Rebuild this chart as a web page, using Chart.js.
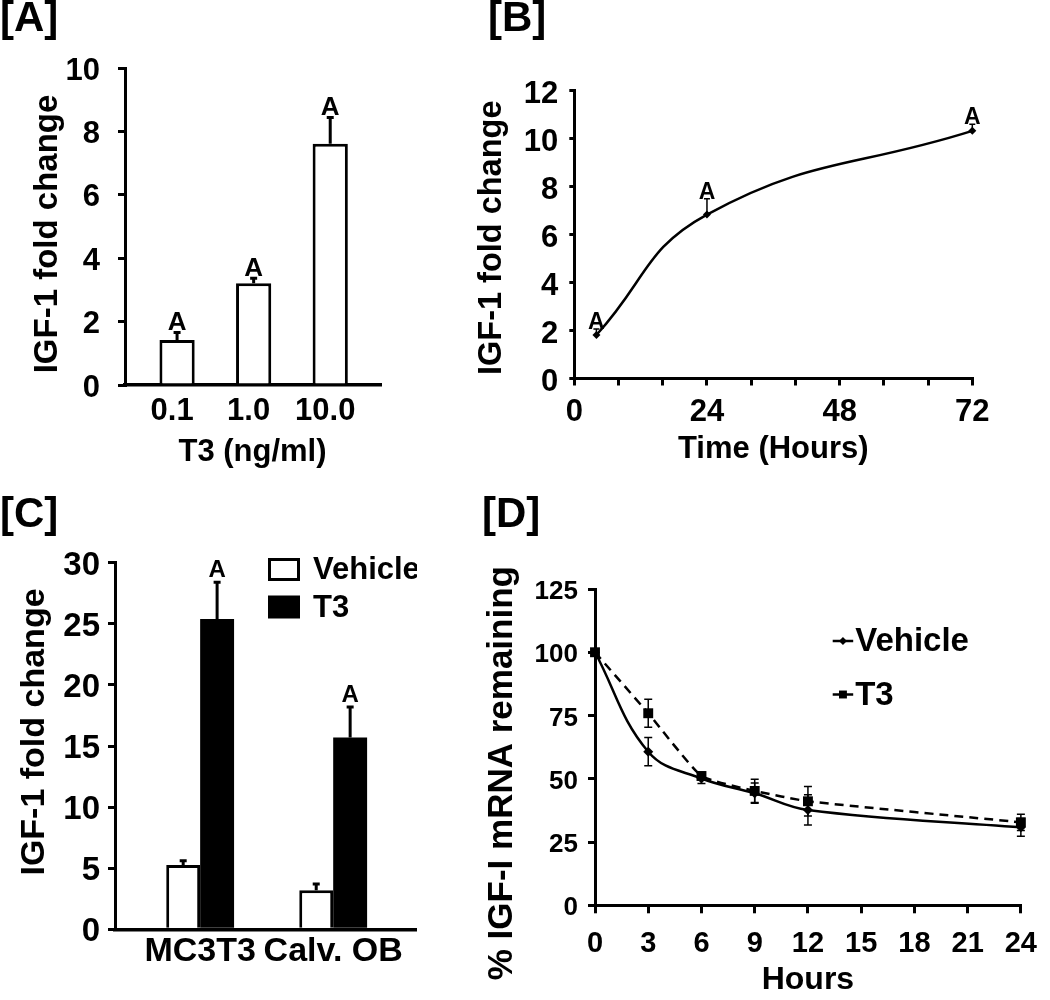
<!DOCTYPE html>
<html>
<head>
<meta charset="utf-8">
<script src="https://cdn.jsdelivr.net/npm/chart.js@4.4.1/dist/chart.umd.min.js"></script>
<style>
html, body { margin: 0; padding: 0; background: #fff; }
#wrap { position: relative; width: 1050px; height: 1000px; overflow: hidden; background: #fff; }
.panel { position: absolute; }
.panel canvas { display: block; }
.lbl { position: absolute; font: bold 42px "Liberation Sans", Arial, sans-serif; color: #000; line-height: 1; white-space: nowrap; }
</style>
</head>
<body>
<div id="wrap">
  <div class="panel" style="left:0;top:0;"><canvas id="cA" width="440" height="480"></canvas></div>
  <div class="panel" style="left:440px;top:0;"><canvas id="cB" width="610" height="480"></canvas></div>
  <div class="panel" style="left:0;top:480px;"><canvas id="cC" width="417" height="520"></canvas></div>
  <div class="panel" style="left:440px;top:480px;"><canvas id="cD" width="610" height="520"></canvas></div>
  <div class="lbl" style="left:0;top:-4px;">[A]</div>
  <div class="lbl" style="left:488px;top:-4px;">[B]</div>
  <div class="lbl" style="left:0;top:492px;">[C]</div>
  <div class="lbl" style="left:482px;top:492px;">[D]</div>
</div>
<script>
// ---------------- DATA ----------------
// Panel A
const aCategories = ['0.1', '1.0', '10.0'];
const aValues = [1.42, 3.21, 7.61];
const aErrors = [0.24, 0.16, 0.83];
const aSig = ['A', 'A', 'A'];
const aYTicks = [0, 2, 4, 6, 8, 10];

// Panel B
const bHours = [4, 24, 72];
const bValues = [1.81, 6.82, 10.30];
const bErrors = [0.25, 0.66, 0.28];
const bSig = ['A', 'A', 'A'];
const bYTicks = [0, 2, 4, 6, 8, 10, 12];
const bXTickMarks = [0, 8, 16, 24, 32, 40, 48, 56, 64, 72];
const bXTickLabels = [0, 24, 48, 72];

// Panel C
const cCategories = ['MC3T3', 'Calv. OB'];
const cSeriesNames = ['Vehicle', 'T3'];
const cVehicle = [5.26, 3.20];
const cVehicleErr = [0.34, 0.50];
const cT3 = [25.4, 15.7];
const cT3Err = [3.0, 2.5];
const cT3Sig = ['A', 'A'];
const cYTicks = [0, 5, 10, 15, 20, 25, 30];

// Panel D
const dHours = [0, 3, 6, 9, 12, 24];
const dSeriesNames = ['Vehicle', 'T3'];
const dVehicle = [100, 60.7, 50.1, 44.3, 37.7, 30.8];
const dVehicleErr = [0, 5.6, 2.0, 4.0, 6.0, 3.5];
const dT3 = [100, 75.9, 51.1, 45.2, 41.1, 32.8];
const dT3Err = [0, 5.5, 1.5, 4.6, 5.8, 3.2];
const dYTicks = [0, 25, 50, 75, 100, 125];
const dXTicks = [0, 3, 6, 9, 12, 15, 18, 21, 24];

// ---------------- HELPERS ----------------
const FONT = '"Liberation Sans", Arial, Helvetica, sans-serif';
Chart.defaults.font.family = FONT;
Chart.defaults.color = '#000';
Chart.defaults.animation = false;

function F(size) { return { family: FONT, size: size, weight: 'bold' }; }
function fixedTicks(values) { return s => { s.ticks = values.map(v => ({ value: v })); }; }

function yAxis(o) {
  return {
    type: 'linear', min: o.min, max: o.max,
    afterBuildTicks: fixedTicks(o.ticks),
    afterFit: s => { s.width = o.width; },
    ticks: { font: F(o.tickSize), color: '#000', padding: o.pad, labelOffset: o.labelOffset || 0, autoSkip: false },
    grid: { display: true, drawOnChartArea: false, drawTicks: true, tickLength: o.tickLength, color: '#000', lineWidth: o.lw || 3 },
    border: { display: true, color: '#000', width: o.bw || 3 },
    title: { display: false }
  };
}

function xAxis(o) {
  return {
    type: 'linear', min: o.min, max: o.max, offset: false,
    afterBuildTicks: fixedTicks(o.ticks),
    afterFit: s => { s.height = o.height; },
    ticks: { font: F(o.tickSize), color: '#000', padding: o.pad, labelOffset: o.labelOffset || 0, autoSkip: false, maxRotation: 0, callback: o.callback },
    grid: { display: true, offset: false, drawOnChartArea: false, drawTicks: o.tickLength > 0, tickLength: o.tickLength || 0, color: '#000', lineWidth: o.lw || 3 },
    border: { display: true, color: '#000', width: o.bw || 3 },
    title: { display: !!o.title, text: o.title || '', font: F(o.titleSize || 30), color: '#000', padding: { top: 0, bottom: o.titlePad || 0 } }
  };
}

function drawMarker(ctx, style, x, y, r) {
  ctx.beginPath();
  if (style === 'rectRot') {
    ctx.moveTo(x, y - r); ctx.lineTo(x + r, y); ctx.lineTo(x, y + r); ctx.lineTo(x - r, y);
  } else {
    const h = r * Math.SQRT1_2;
    ctx.rect(x - h, y - h, 2 * h, 2 * h);
  }
  ctx.closePath();
  ctx.fill();
}

// Error bars + significance letters, positioned via the chart's own scales
const errorBars = {
  id: 'errorBars',
  afterDatasetsDraw(chart) {
    const ctx = chart.ctx;
    const ys = chart.scales.y;
    chart.data.datasets.forEach((ds, di) => {
      if (!ds.errors) return;
      const meta = chart.getDatasetMeta(di);
      meta.data.forEach((el, i) => {
        const raw = ds.data[i];
        const val = (raw && typeof raw === 'object') ? raw.y : raw;
        const e = ds.errors[i] || 0;
        const x = el.x;
        const yTop = ys.getPixelForValue(val + e);
        const yBot = ds.errorBoth ? ys.getPixelForValue(val - e) : ys.getPixelForValue(val);
        ctx.save();
        if (e > 0) {
          ctx.strokeStyle = '#000';
          ctx.lineWidth = ds.errorWidth || 2;
          ctx.beginPath();
          ctx.moveTo(x, yBot); ctx.lineTo(x, yTop);
          const cw = (ds.capWidth || 8) / 2;
          ctx.moveTo(x - cw, yTop); ctx.lineTo(x + cw, yTop);
          if (ds.errorBoth) { ctx.moveTo(x - cw, yBot); ctx.lineTo(x + cw, yBot); }
          ctx.stroke();
        }
        if (ds.sig && ds.sig[i]) {
          ctx.fillStyle = '#000';
          ctx.font = 'bold ' + (ds.sigSize || 24) + 'px ' + FONT;
          ctx.textAlign = 'center';
          ctx.textBaseline = 'alphabetic';
          ctx.fillText(ds.sig[i], x, yTop - (ds.sigGap || 0));
        }
        ctx.restore();
      });
    });
  }
};

// Vertical axis title, centred on the plot area with an optional shift
const yTitle = {
  id: 'yTitle',
  afterDraw(chart, args, o) {
    if (!o || !o.text) return;
    const ctx = chart.ctx;
    const a = chart.chartArea;
    ctx.save();
    ctx.translate(o.x, (a.top + a.bottom) / 2 + (o.shift || 0));
    ctx.rotate(-Math.PI / 2);
    ctx.fillStyle = '#000';
    ctx.font = 'bold ' + o.size + 'px ' + FONT;
    ctx.textAlign = 'center';
    ctx.textBaseline = 'middle';
    ctx.fillText(o.text, 0, 0);
    ctx.restore();
  }
};

// Legend drawn from dataset labels / styles
const panelLegend = {
  id: 'panelLegend',
  afterDraw(chart, args, o) {
    if (!o || !o.display) return;
    const ctx = chart.ctx;
    ctx.save();
    chart.data.datasets.forEach((ds, i) => {
      const cy = o.y + i * o.rowHeight;
      let tx;
      if (o.mode === 'box') {
        ctx.fillStyle = ds.backgroundColor;
        ctx.fillRect(o.x, cy - o.boxH / 2, o.boxW, o.boxH);
        const lw = ds.borderWidth || 0;
        if (lw) {
          ctx.lineWidth = lw; ctx.strokeStyle = ds.borderColor;
          ctx.strokeRect(o.x + lw / 2, cy - o.boxH / 2 + lw / 2, o.boxW - lw, o.boxH - lw);
        }
        tx = o.x + o.boxW + o.gap;
      } else {
        ctx.strokeStyle = ds.borderColor; ctx.lineWidth = ds.borderWidth;
        ctx.setLineDash([]);
        ctx.beginPath(); ctx.moveTo(o.x, cy); ctx.lineTo(o.x + o.lineLen, cy); ctx.stroke();
        ctx.fillStyle = ds.pointBackgroundColor || '#000';
        drawMarker(ctx, ds.pointStyle, o.x + o.lineLen / 2, cy, ds.pointRadius * (o.markerScale || 1));
        tx = o.x + o.lineLen + o.gap;
      }
      ctx.fillStyle = '#000';
      ctx.font = 'bold ' + o.size + 'px ' + FONT;
      ctx.textAlign = 'left';
      ctx.textBaseline = 'middle';
      ctx.fillText(ds.label, tx, cy + 1);
    });
    ctx.restore();
  }
};

const baseOpts = { responsive: false, animation: false, events: [] };

// ---------------- PANEL A ----------------
new Chart(document.getElementById('cA'), {
  type: 'bar',
  data: {
    datasets: [{
      label: 'IGF-1',
      data: aCategories.map((c, i) => ({ x: i + 1, y: aValues[i] })),
      backgroundColor: '#fff', borderColor: '#000', borderWidth: 3, borderSkipped: 'start',
      categoryPercentage: 1, barPercentage: 0.46,
      errors: aErrors, errorWidth: 3, capWidth: 7, sig: aSig, sigSize: 26, sigGap: 2
    }]
  },
  options: Object.assign({}, baseOpts, {
    layout: { padding: { left: 0, top: 68, right: 60, bottom: 0 } },
    plugins: {
      legend: { display: false }, tooltip: { enabled: false },
      yTitle: { text: 'IGF-1 fold change', size: 33, x: 47.6, shift: 7.5 }
    },
    scales: {
      x: xAxis({ min: 0.32, max: 3.65, ticks: aCategories.map((c, i) => i + 1), height: 95,
                 tickSize: 31, pad: 8, tickLength: 0, bw: 3.5, labelOffset: -5,
                 callback: v => aCategories[v - 1] || '',
                 title: 'T3 (ng/ml)', titleSize: 31, titlePad: 9 }),
      y: yAxis({ min: 0, max: 10, ticks: aYTicks, width: 125, tickSize: 31, pad: 18, labelOffset: 3,
                 tickLength: 7 })
    }
  }),
  plugins: [errorBars, yTitle]
});

// ---------------- PANEL B ----------------
new Chart(document.getElementById('cB'), {
  type: 'line',
  data: {
    datasets: [{
      label: 'IGF-1',
      data: bHours.map((h, i) => ({ x: h, y: bValues[i] })),
      borderColor: '#000', borderWidth: 2.5, tension: 0.45, clip: false,
      pointStyle: 'rectRot', pointRadius: 4, pointBackgroundColor: '#000', pointBorderColor: '#000', pointBorderWidth: 0,
      errors: bErrors, errorWidth: 1.5, capWidth: 6, sig: bSig, sigSize: 23, sigGap: 0
    }]
  },
  options: Object.assign({}, baseOpts, {
    layout: { padding: { left: 0, top: 90, right: 77.7, bottom: 0 } },
    plugins: {
      legend: { display: false }, tooltip: { enabled: false },
      yTitle: { text: 'IGF-1 fold change', size: 32.5, x: 51.7, shift: 3.5 }
    },
    scales: {
      x: xAxis({ min: 0, max: 72, ticks: bXTickMarks, height: 101.5, tickSize: 31, pad: 8, tickLength: 7,
                 callback: v => bXTickLabels.includes(v) ? String(v) : '',
                 title: 'Time (Hours)', titleSize: 31, titlePad: 12 }),
      y: yAxis({ min: 0, max: 12, ticks: bYTicks, width: 134.3, tickSize: 31, pad: 11, labelOffset: 4,
                 tickLength: 5 })
    }
  }),
  plugins: [errorBars, yTitle]
});

// ---------------- PANEL C ----------------
new Chart(document.getElementById('cC'), {
  type: 'bar',
  data: {
    datasets: [
      {
        label: cSeriesNames[0],
        data: cCategories.map((c, i) => ({ x: i + 1, y: cVehicle[i] })),
        backgroundColor: '#fff', borderColor: '#000', borderWidth: 3, borderSkipped: 'start',
        categoryPercentage: 0.51, barPercentage: 1,
        errors: cVehicleErr, errorWidth: 3, capWidth: 7
      },
      {
        label: cSeriesNames[1],
        data: cCategories.map((c, i) => ({ x: i + 1, y: cT3[i] })),
        backgroundColor: '#000', borderColor: '#000', borderWidth: 0,
        categoryPercentage: 0.51, barPercentage: 1,
        errors: cT3Err, errorWidth: 3, capWidth: 7, sig: cT3Sig, sigSize: 24, sigGap: 5
      }
    ]
  },
  options: Object.assign({}, baseOpts, {
    layout: { padding: { left: 0, top: 82.7, right: 0, bottom: 0 } },
    plugins: {
      legend: { display: false }, tooltip: { enabled: false },
      panelLegend: { display: true, mode: 'box', x: 268, y: 89.5, rowHeight: 37.5, boxW: 32, boxH: 23, gap: 13, size: 31 },
      yTitle: { text: 'IGF-1 fold change', size: 34, x: 35, shift: -14 }
    },
    scales: {
      x: xAxis({ min: 0.36, max: 2.63, ticks: cCategories.map((c, i) => i + 1), height: 70.7,
                 tickSize: 34, pad: 2, tickLength: 0, bw: 3.5,
                 callback: v => cCategories[v - 1] || '' }),
      y: yAxis({ min: 0, max: 30, ticks: cYTicks, width: 115, tickSize: 33, pad: 8, labelOffset: 3,
                 tickLength: 7 })
    }
  }),
  plugins: [errorBars, panelLegend, yTitle]
});

// ---------------- PANEL D ----------------
new Chart(document.getElementById('cD'), {
  type: 'line',
  data: {
    datasets: [
      {
        label: dSeriesNames[0],
        data: dHours.map((h, i) => ({ x: h, y: dVehicle[i] })),
        borderColor: '#000', borderWidth: 2.5, tension: 0.4, clip: false,
        pointStyle: 'rectRot', pointRadius: 5, pointBackgroundColor: '#000', pointBorderColor: '#000', pointBorderWidth: 0,
        errors: dVehicleErr, errorBoth: true, errorWidth: 1.5, capWidth: 8
      },
      {
        label: dSeriesNames[1],
        data: dHours.map((h, i) => ({ x: h, y: dT3[i] })),
        borderColor: '#000', borderWidth: 2.5, borderDash: [9, 6], tension: 0.15, clip: false,
        pointStyle: 'rect', pointRadius: 7, pointBackgroundColor: '#000', pointBorderColor: '#000', pointBorderWidth: 0,
        errors: dT3Err, errorBoth: true, errorWidth: 1.5, capWidth: 8
      }
    ]
  },
  options: Object.assign({}, baseOpts, {
    layout: { padding: { left: 0, top: 109, right: 27, bottom: 0 } },
    plugins: {
      legend: { display: false }, tooltip: { enabled: false },
      panelLegend: { display: true, mode: 'line', x: 392.7, y: 161, rowHeight: 53.5, lineLen: 20.5, gap: 2, size: 33, markerScale: 0.8 },
      yTitle: { text: '% IGF-I mRNA remaining', size: 35, x: 62, shift: 26 }
    },
    scales: {
      x: xAxis({ min: 0, max: 24, ticks: dXTicks, height: 94.7, tickSize: 29, pad: 13, tickLength: 8,
                 callback: v => String(v), title: 'Hours', titleSize: 32, titlePad: 0.8 }),
      y: yAxis({ min: 0, max: 125, ticks: dYTicks, width: 155, tickSize: 26, pad: 10, labelOffset: 3,
                 tickLength: 7 })
    }
  }),
  plugins: [errorBars, panelLegend, yTitle]
});
</script>
</body>
</html>
